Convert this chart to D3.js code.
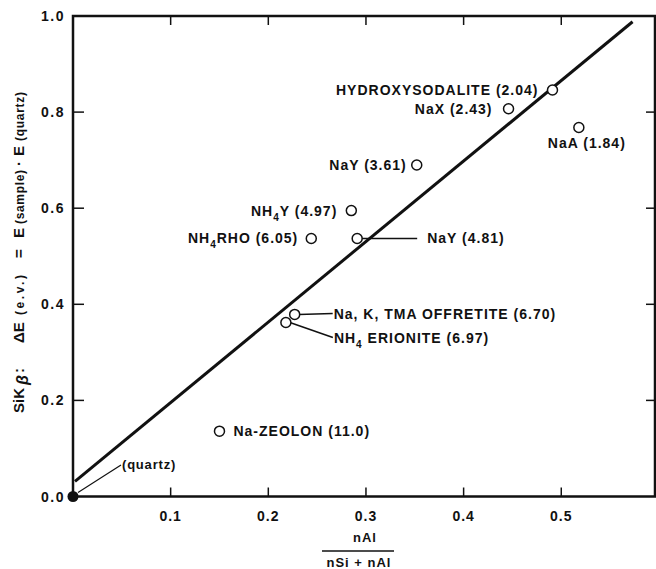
<!DOCTYPE html>
<html>
<head>
<meta charset="utf-8">
<script src="https://cdn.jsdelivr.net/npm/d3@7"></script>
<style>
  body { margin: 0; background: #fff; }
  text { font-family: "Liberation Sans", Arial, sans-serif; font-weight: bold; fill: #111; }
</style>
</head>
<body>
<div id="chart"></div>
<script>
// samples: x = nAl/(nSi+nAl), y = delta E (e.v.)
const sampleNames = ["HYDROXYSODALITE (2.04)", "NaX (2.43)", "NaA (1.84)", "NaY (3.61)",
    "NH4Y (4.97)", "NH4RHO (6.05)", "NaY (4.81)", "Na, K, TMA OFFRETITE (6.70)",
    "NH4 ERIONITE (6.97)", "Na-ZEOLON (11.0)"]
const sampleX = [0.491, 0.446, 0.518, 0.352, 0.285, 0.244, 0.291, 0.227, 0.218, 0.150]
const sampleY = [0.846, 0.807, 0.768, 0.690, 0.595, 0.537, 0.537, 0.379, 0.362, 0.136]
const quartzPoint = [0, 0]
const fitLine = [[0, 0.028], [0.573, 0.988]]
const xTicks = [0.1, 0.2, 0.3, 0.4, 0.5]
const yTicks = [0.0, 0.2, 0.4, 0.6, 0.8, 1.0]

// label placement: [dx, dy, anchor, leaderToX, leaderToY] (pixels, relative to point)
const labelPlace = [
    [-14, 5, "end"], [-16, 5, "end"], [-31, 21, "start"], [-10, 5, "end"],
    [-14, 5, "end"], [-13, 5, "end"], [70, 5, "start", 60, 0],
    [39, 5, "start", 38, -1], [48, 20, "start", 47, 15], [14, 5, "start"]
]

const width = 656, height = 569
const x = d3.scaleLinear().domain([0, 0.597]).range([73, 656])
const y = d3.scaleLinear().domain([0, 1]).range([496.5, 16])

const svg = d3.select("#chart").append("svg")
    .attr("width", width).attr("height", height)

// frame
svg.append("path")
    .attr("d", `M${x(0)+2},${y(1)} H${width-1} V${y(0)} H${x(0)} V${y(1)} Z`)
    .attr("fill", "none").attr("stroke", "#111").attr("stroke-width", 2.5)

// ticks inward
svg.append("g").selectAll("line").data(xTicks).enter().append("line")
    .attr("x1", d => x(d)).attr("x2", d => x(d))
    .attr("y1", y(0)).attr("y2", y(0) - 9)
    .attr("stroke", "#111").attr("stroke-width", 1.5)
svg.append("g").selectAll("line").data(xTicks).enter().append("line")
    .attr("x1", d => x(d)).attr("x2", d => x(d))
    .attr("y1", y(1)).attr("y2", y(1) + 9)
    .attr("stroke", "#111").attr("stroke-width", 1.5)
svg.append("g").selectAll("line").data(yTicks.slice(1, 5)).enter().append("line")
    .attr("x1", x(0)).attr("x2", x(0) + 11)
    .attr("y1", d => y(d)).attr("y2", d => y(d))
    .attr("stroke", "#111").attr("stroke-width", 1.5)
svg.append("g").selectAll("line").data(yTicks.slice(1, 5)).enter().append("line")
    .attr("x1", width - 1).attr("x2", width - 10)
    .attr("y1", d => y(d)).attr("y2", d => y(d))
    .attr("stroke", "#111").attr("stroke-width", 1.5)

// tick labels
svg.append("g").selectAll("text").data(xTicks).enter().append("text")
    .attr("x", d => x(d)).attr("y", 521)
    .attr("text-anchor", "middle").attr("font-size", 14).attr("letter-spacing", 1)
    .text(d => d3.format(".1f")(d))
svg.append("g").selectAll("text").data(yTicks).enter().append("text")
    .attr("x", 65).attr("y", d => y(d) + 5)
    .attr("text-anchor", "end").attr("font-size", 14).attr("letter-spacing", 1.5)
    .text(d => d3.format(".1f")(d))

// x title as fraction
svg.append("text").attr("x", 365).attr("y", 542).attr("text-anchor", "middle")
    .attr("font-size", 13).attr("letter-spacing", 1).text("nAl")
svg.append("line").attr("x1", 322).attr("x2", 394).attr("y1", 551).attr("y2", 551)
    .attr("stroke", "#111").attr("stroke-width", 1.5)
svg.append("text").attr("x", 359).attr("y", 567).attr("text-anchor", "middle")
    .attr("font-size", 13).attr("letter-spacing", 1).text("nSi + nAl")

// y title, pieces laid out bottom to top: [text, start y on page, size, stretch length]
const yTitleParts = [
    ["SiK", 413, 15, 0], ["β", 385, 16, 0], [":", 373, 15, 0],
    ["ΔE", 343, 15, 0], ["(e.v.)", 315, 12, 40], ["=", 258, 15, 0],
    ["E", 238, 15, 0], ["(sample)", 224, 12, 54], ["·", 166, 15, 0],
    ["E", 156, 15, 0], ["(quartz)", 141, 12, 49]
]
const yt = svg.append("g").attr("transform", "translate(24,0) rotate(-90)")
yt.selectAll("text").data(yTitleParts).enter().append("text")
    .attr("x", d => -d[1]).attr("y", d => d[0] === "β" ? 4 : 0)
    .attr("font-size", d => d[2])
    .attr("font-style", d => d[0] === "β" ? "italic" : null)
    .attr("font-weight", d => d[0] === "β" ? "normal" : null)
    .attr("textLength", d => d[3] || null)
    .attr("lengthAdjust", d => d[3] ? "spacing" : null)
    .text(d => d[0])

// fit line
svg.append("line")
    .attr("x1", x(fitLine[0][0]) + 2).attr("y1", y(fitLine[0][1] + 1.675 * 2 / 977))
    .attr("x2", x(fitLine[1][0])).attr("y2", y(fitLine[1][1]))
    .attr("stroke", "#111").attr("stroke-width", 3)

// points
const samples = sampleNames.map((n, i) => ({ name: n, x: sampleX[i], y: sampleY[i], p: labelPlace[i] }))

svg.append("g").selectAll("line").data(samples.filter(d => d.p.length > 3)).enter().append("line")
    .attr("x1", d => x(d.x) + 4).attr("y1", d => y(d.y))
    .attr("x2", d => x(d.x) + d.p[3]).attr("y2", d => y(d.y) + d.p[4])
    .attr("stroke", "#111").attr("stroke-width", 1.5)

svg.append("g").selectAll("circle").data(samples).enter().append("circle")
    .attr("cx", d => x(d.x)).attr("cy", d => y(d.y)).attr("r", 5)
    .attr("fill", "#fff").attr("stroke", "#111").attr("stroke-width", 1.5)

const labels = svg.append("g").selectAll("text").data(samples).enter().append("text")
    .attr("x", d => x(d.x) + d.p[0]).attr("y", d => y(d.y) + d.p[1])
    .attr("text-anchor", d => d.p[2]).attr("font-size", 14).attr("letter-spacing", 1)
labels.each(function(d) {
    const t = d3.select(this)
    if (d.name.startsWith("NH4")) {
        t.append("tspan").text("NH")
        t.append("tspan").attr("dy", 5).attr("font-size", 10).text("4")
        t.append("tspan").attr("dy", -5).text(d.name.slice(3))
    } else {
        t.text(d.name)
    }
})

// quartz
svg.append("line").attr("x1", x(quartzPoint[0]) + 5).attr("y1", y(quartzPoint[1]) - 4)
    .attr("x2", 121).attr("y2", 465).attr("stroke", "#111").attr("stroke-width", 1.2)
svg.append("circle").attr("cx", x(quartzPoint[0])).attr("cy", y(quartzPoint[1])).attr("r", 5.5)
    .attr("fill", "#111")
svg.append("text").attr("x", 122).attr("y", 469).attr("font-size", 13).attr("letter-spacing", 0.8)
    .text("(quartz)")
</script>
</body>
</html>
